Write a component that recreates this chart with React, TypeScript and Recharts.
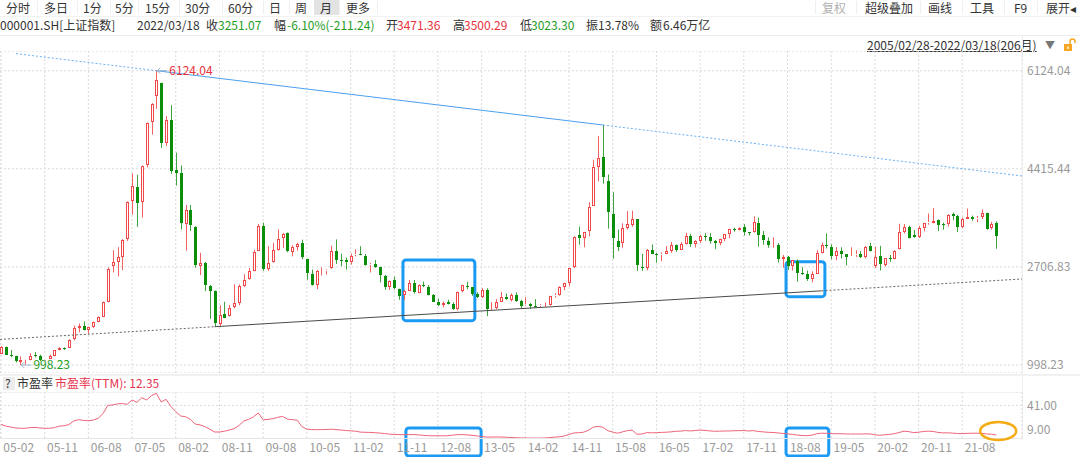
import React from "react";
import {
  ComposedChart,
  Bar,
  Line,
  XAxis,
  YAxis,
  CartesianGrid,
  ReferenceLine,
  ReferenceArea,
  ReferenceDot,
} from "recharts";

const FONT = '"Noto Sans CJK SC", "Noto Sans", sans-serif';
const RED = "#f04848";
const RED_WICK = "#f26060";
const GREEN = "#0b8f0b";
const GREEN_WICK = "#3da33d";
const TXT_RED = "#e8313b";
const TXT_GREEN = "#1f9d1f";

// Monthly candles, 2005-02 .. 2022-03 : [open, high, low, close]
const k2005 = [
  [1191, 1328, 1188, 1306], [1304, 1316, 1173, 1181], [1180, 1260, 1134, 1159], [1157, 1160, 1043, 1060],
  [1059, 1147, 998.23, 1080], [1078, 1088, 1004, 1083], [1082, 1205, 1080, 1162], [1164, 1223, 1130, 1155],
  [1155, 1176, 1067, 1092], [1092, 1105, 1074, 1099], [1100, 1180, 1100, 1161],
];
const k2006 = [
  [1163, 1260, 1150, 1258], [1262, 1308, 1254, 1299], [1300, 1306, 1260, 1298], [1300, 1446, 1297, 1440],
  [1447, 1686, 1425, 1641], [1645, 1721, 1567, 1672], [1674, 1757, 1601, 1612], [1611, 1665, 1541, 1658],
  [1660, 1756, 1645, 1752], [1754, 1846, 1743, 1837], [1839, 2104, 1833, 2099], [2104, 2698, 2090, 2675],
];
const k2007 = [
  [2728, 3000, 2610, 2786], [2790, 3050, 2541, 2881], [2881, 3190, 2650, 3183], [3196, 3848, 3160, 3841],
  [3856, 4335, 3616, 4109], [4106, 4311, 3404, 3820], [3830, 4472, 3563, 4471], [4480, 5219, 4440, 5218],
  [5238, 5560, 5010, 5552], [5683, 6124.04, 5462, 5954], [5914, 5916, 4778, 4871], [4861, 5336, 4812, 5262],
];
const k2008 = [
  [5273, 5522, 4330, 4383], [4402, 4696, 4123, 4348], [4350, 4473, 3358, 3473], [3446, 3786, 2990, 3693],
  [3698, 3786, 3333, 3433], [3400, 3415, 2693, 2736], [2730, 2953, 2566, 2775], [2783, 2793, 2284, 2397],
  [2382, 2394, 1802, 2293], [2292, 2297, 1664.93, 1729], [1720, 2035, 1679, 1871], [1880, 2100, 1814, 1821],
];
const k2009 = [
  [1849, 2042, 1844, 1991], [2000, 2402, 1984, 2082], [2074, 2399, 2037, 2373], [2379, 2580, 2355, 2477],
  [2492, 2688, 2484, 2633], [2635, 3000, 2630, 2959], [2986, 3454, 2985, 3412], [3427, 3478, 2639, 2667],
  [2667, 3068, 2639, 2779], [2800, 3123, 2780, 2996], [3000, 3361, 2990, 3195], [3204, 3295, 3039, 3277],
];
const k2010 = [
  [3289, 3307, 2963, 2989], [2970, 3084, 2890, 3051], [3060, 3128, 2990, 3110], [3121, 3181, 2840, 2871],
  [2840, 2850, 2482, 2592], [2580, 2660, 2382, 2398], [2393, 2650, 2319, 2638], [2633, 2697, 2557, 2638],
  [2640, 2665, 2573, 2656], [2681, 3074, 2673, 2979], [2987, 3186, 2758, 2820], [2832, 2937, 2720, 2808],
];
const k2011 = [
  [2825, 2870, 2661, 2790], [2798, 2940, 2748, 2905], [2907, 3012, 2890, 2928], [2935, 3067, 2910, 2911],
  [2900, 2931, 2730, 2743], [2745, 2777, 2610, 2762], [2766, 2826, 2690, 2701], [2703, 2708, 2437, 2568],
  [2555, 2566, 2307, 2359], [2357, 2470, 2307, 2468], [2477, 2536, 2312, 2333], [2324, 2328, 2134, 2199],
];
const k2012 = [
  [2212, 2302, 2132, 2292], [2293, 2479, 2290, 2428], [2432, 2478, 2242, 2262], [2256, 2402, 2249, 2396],
  [2396, 2453, 2353, 2373], [2365, 2390, 2211, 2225], [2224, 2235, 2096, 2103], [2104, 2154, 2023, 2047],
  [2042, 2103, 1999, 2086], [2090, 2136, 2053, 2069], [2064, 2091, 1959, 1980], [1979, 2276, 1949, 2269],
];
const k2013 = [
  [2290, 2394, 2262, 2385], [2382, 2445, 2320, 2365], [2351, 2354, 2203, 2237], [2233, 2266, 2163, 2178],
  [2175, 2337, 2164, 2300], [2309, 2335, 1849, 1979], [1985, 2092, 1951, 1994], [1986, 2149, 1970, 2098],
  [2099, 2270, 2095, 2175], [2179, 2242, 2133, 2141], [2135, 2244, 2105, 2220], [2218, 2263, 2097, 2116],
];
const k2014 = [
  [2112, 2133, 1984, 2033], [2038, 2177, 2030, 2056], [2054, 2079, 1974, 2033], [2030, 2146, 1998, 2026],
  [2022, 2063, 1991, 2039], [2037, 2089, 2010, 2048], [2049, 2204, 2033, 2202], [2203, 2248, 2171, 2217],
  [2211, 2369, 2205, 2364], [2362, 2430, 2300, 2420], [2423, 2683, 2367, 2683], [2700, 3240, 2684, 3235],
];
const k2015 = [
  [3258, 3406, 3095, 3210], [3212, 3317, 3049, 3310], [3328, 3835, 3238, 3748], [3767, 4573, 3767, 4442],
  [4442, 4986, 4198, 4612], [4615, 5178.19, 4156, 4277], [4195, 4317, 3373, 3664], [3631, 4006, 2850, 3206],
  [3157, 3357, 2983, 3053], [3118, 3465, 3039, 3383], [3380, 3679, 3357, 3446], [3445, 3685, 3406, 3539],
];
const k2016 = [
  [3537, 3539, 2638, 2738], [2705, 2936, 2638, 2688], [2688, 3018, 2649, 3004], [3009, 3097, 2929, 2938],
  [2935, 2950, 2781, 2917], [2917, 2960, 2807, 2930], [2931, 3069, 2928, 2979], [2979, 3140, 2952, 3085],
  [3089, 3096, 2969, 3005], [3000, 3140, 2999, 3100], [3105, 3301, 3098, 3250], [3244, 3284, 3056, 3104],
];
const k2017 = [
  [3105, 3173, 3045, 3159], [3162, 3264, 3124, 3242], [3247, 3294, 3163, 3223], [3225, 3295, 3111, 3155],
  [3150, 3176, 3016, 3117], [3117, 3197, 3084, 3192], [3193, 3276, 3155, 3273], [3273, 3372, 3205, 3361],
  [3362, 3391, 3319, 3349], [3344, 3397, 3343, 3393], [3396, 3450, 3254, 3317], [3311, 3315, 3254, 3307],
];
const k2018 = [
  [3314, 3587, 3305, 3481], [3479, 3566, 3062, 3259], [3268, 3333, 3092, 3169], [3163, 3220, 3041, 3082],
  [3080, 3220, 3041, 3095], [3081, 3122, 2782, 2847], [2845, 2915, 2691, 2876], [2880, 2896, 2653, 2725],
  [2717, 2827, 2644, 2821], [2810, 2839, 2449, 2603], [2603, 2703, 2566, 2588], [2588, 2640, 2463, 2494],
];
const k2019 = [
  [2497, 2630, 2440, 2585], [2589, 2997, 2588, 2941], [2950, 3129, 2943, 3091], [3094, 3288, 3027, 3078],
  [3052, 3099, 2838, 2899], [2900, 3050, 2822, 2979], [2988, 3049, 2854, 2932], [2927, 2929, 2733, 2886],
  [2897, 3048, 2895, 2905], [2907, 2998, 2881, 2929], [2940, 2981, 2858, 2871], [2871, 3072, 2857, 3050],
];
const k2020 = [
  [3067, 3127, 2976, 2977], [2716, 3058, 2685, 2880], [2899, 3074, 2647, 2750], [2743, 2860, 2715, 2860],
  [2859, 2915, 2797, 2852], [2853, 3000, 2838, 2985], [3018, 3458, 3012, 3310], [3313, 3455, 3289, 3396],
  [3404, 3425, 3202, 3218], [3262, 3350, 3215, 3225], [3235, 3422, 3209, 3392], [3388, 3474, 3326, 3473],
];
const k2021 = [
  [3474, 3637, 3441, 3483], [3479, 3732, 3465, 3509], [3525, 3532, 3328, 3442], [3453, 3479, 3354, 3447],
  [3447, 3625, 3409, 3615], [3621, 3654, 3517, 3591], [3592, 3614, 3312, 3397], [3406, 3567, 3381, 3544],
  [3543, 3723, 3542, 3568], [3568, 3600, 3512, 3547], [3544, 3594, 3484, 3564], [3571, 3708, 3540, 3640],
];
const k2022 = [
  [3650, 3651, 3357, 3361], [3392, 3491, 3357, 3462], [3471.36, 3500.29, 3023.3, 3251.07],
];

// PE (TTM) monthly
const pe2005 = [22.7, 21.0, 20.1, 19.2, 18.9, 18.9, 19.5, 19.8, 19.2, 18.9, 18.9];
const pe2006 = [19.5, 21.0, 21.3, 22.5, 26.0, 27.2, 26.5, 26.2, 26.8, 28.5, 33.0, 41.0];
const pe2007 = [41.5, 42.5, 42.8, 42.1, 46.3, 44.0, 48.5, 46.3, 50.5, 52.7, 44.3, 46.9];
const pe2008 = [40.0, 35.0, 30.8, 30.1, 27.6, 23.0, 22.2, 20.5, 18.0, 15.3, 15.3, 16.0];
const pe2009 = [17.2, 18.5, 21.5, 25.9, 27.5, 30.0, 33.7, 27.1, 27.5, 28.2, 29.5, 30.4];
const pe2010 = [27.8, 27.2, 26.7, 20.5, 18.0, 17.7, 17.5, 17.6, 17.7, 18.0, 17.6, 17.2];
const pe2011 = [16.8, 16.4, 16.1, 15.2, 15.0, 14.9, 14.6, 14.3, 13.8, 13.3, 12.9, 12.8];
const pe2012 = [12.6, 12.8, 12.8, 12.5, 12.1, 11.7, 11.6, 11.7, 11.6, 11.7, 12.2, 12.7];
const pe2013 = [12.8, 12.5, 12.1, 11.5, 10.9, 10.4, 10.4, 10.5, 10.4, 10.2, 10.0, 9.8];
const pe2014 = [9.6, 9.5, 9.4, 9.4, 9.4, 9.5, 9.9, 10.3, 10.7, 11.4, 12.9, 14.4];
const pe2015 = [14.6, 15.1, 17.0, 20.0, 20.7, 19.8, 16.5, 15.3, 14.1, 15.4, 16.6, 17.1];
const pe2016 = [13.1, 13.3, 14.7, 14.5, 14.6, 14.9, 15.1, 15.4, 16.0, 16.1, 16.7, 16.3];
const pe2017 = [16.8, 17.1, 16.9, 16.3, 16.0, 16.1, 16.2, 16.3, 16.5, 16.6, 16.7, 16.3];
const pe2018 = [16.6, 15.8, 15.4, 15.0, 14.8, 14.4, 13.9, 13.4, 13.0, 12.3, 11.9, 11.7];
const pe2019 = [12.2, 13.6, 14.1, 14.0, 13.7, 13.6, 13.6, 13.4, 13.3, 13.4, 13.3, 13.5];
const pe2020 = [13.4, 12.6, 12.1, 12.6, 13.0, 13.7, 14.8, 16.1, 15.6, 14.7, 15.1, 15.8];
const pe2021 = [16.1, 15.8, 14.9, 14.4, 14.5, 14.2, 13.8, 13.7, 14.0, 14.1, 14.1, 14.0];
const pe2022 = [13.4, 13.2, 12.35];

// axis ticks
const dateTickLabels = [
  "05-02", "05-11", "06-08", "07-05", "08-02", "08-11", "09-08", "10-05", "11-02", "11-11", "12-08", "13-05",
  "14-02", "14-11", "15-08", "16-05", "17-02", "17-11", "18-08", "19-05", "20-02", "20-11", "21-08",
];
const dateTickIdx = [0, 9, 18, 27, 36, 45, 54, 63, 72, 81, 90, 99, 108, 117, 126, 135, 144, 153, 162, 171, 180, 189, 198];
const priceTicks = [998.23, 2706.83, 4415.44, 6124.04];
const peTicks = [9, 41];

// hand-drawn trend lines: [monthIndex, value]
const upperTrend = [[3.1, 6421.1], [32, 6124.04], [124, 5178.19], [210.3, 4290.9]];
const lowerTrend = [[-0.2, 1443.9], [44, 1664.93], [169, 2289.9], [210.3, 2496.4]];

// highlight boxes: [fromIdx, toIdx, lowValue, highValue]
const priceBoxes = [[82.8, 97.6, 1770, 2827], [161.7, 169.7, 2188, 2797]];
const peBoxes = [[83.4, 98.9, -7.9, 19.2], [161.7, 170.5, -7.9, 19.2]];

const candles = [
  ...k2005, ...k2006, ...k2007, ...k2008, ...k2009, ...k2010, ...k2011, ...k2012, ...k2013,
  ...k2014, ...k2015, ...k2016, ...k2017, ...k2018, ...k2019, ...k2020, ...k2021, ...k2022,
];
const peAll = [
  ...pe2005, ...pe2006, ...pe2007, ...pe2008, ...pe2009, ...pe2010, ...pe2011, ...pe2012, ...pe2013,
  ...pe2014, ...pe2015, ...pe2016, ...pe2017, ...pe2018, ...pe2019, ...pe2020, ...pe2021, ...pe2022,
];
const data = candles.map(([o, h, l, c], i) => ({ i, o, h, l, c, range: [l, h], pe: peAll[i] }));

const X_DOMAIN: [number, number] = [-0.2, 210.3];

const Candle = (props: any) => {
  const { x, y, width, height, payload } = props;
  if (x == null || y == null) return null;
  const { o, h, l, c } = payload;
  const top = Math.min(y, y + height);
  const bot = Math.max(y, y + height);
  const span = h - l;
  const py = (v: number) => (span === 0 ? top : bot - ((v - l) / span) * (bot - top));
  const cx = Math.round(x + width / 2);
  const up = c >= o;
  const bt = Math.round(py(Math.max(o, c)));
  const bb = Math.round(py(Math.min(o, c)));
  const ht = py(h);
  const lb = py(l);
  const wx = cx + 0.5;
  if (up) {
    return (
      <g>
        <line x1={wx} x2={wx} y1={ht} y2={bt} stroke={RED_WICK} strokeWidth={1} />
        <line x1={wx} x2={wx} y1={bb} y2={lb} stroke={RED_WICK} strokeWidth={1} />
        <rect x={cx - 0.5} y={bt + 0.5} width={2} height={Math.max(bb - bt - 1, 0)} fill="#fff" stroke={RED} strokeWidth={1} />
      </g>
    );
  }
  return (
    <g>
      <line x1={wx} x2={wx} y1={ht} y2={lb} stroke={GREEN_WICK} strokeWidth={1} />
      <rect x={cx - 1} y={bt} width={3} height={Math.max(bb - bt, 1)} fill={GREEN} />
    </g>
  );
};

const PriceTick = (p: any) => (
  <text x={p.x} y={p.y} dy={4.3} fill="#999" fontSize={12} fontFamily={FONT} textAnchor="start">
    {Number(p.payload.value).toFixed(2)}
  </text>
);

const PeTick = (p: any) => {
  const v = Number(p.payload.value);
  const shift = v === peTicks[0] ? -9.2 : 0;
  return (
    <text x={p.x} y={p.y + shift} dy={4.3} fill="#999" fontSize={12} fontFamily={FONT} textAnchor="start">
      {v.toFixed(2)}
    </text>
  );
};

const DateTick = (p: any) => {
  const idx = dateTickIdx.indexOf(Number(p.payload.value));
  return (
    <text x={p.x + 2.4} y={p.y + 13.5} fill="#999" fontSize={12} fontFamily={FONT} textAnchor="start">
      {dateTickLabels[idx]}
    </text>
  );
};

const BoxShape = (p: any) => (
  <rect x={p.x} y={p.y} width={p.width} height={p.height} rx={3} ry={3} fill="none" stroke="#1a9af2" strokeWidth={3} />
);

const MarkLabel = (color: string, text: string) => (p: any) => {
  const { cx, cy } = p;
  return (
    <g>
      <line x1={cx + 1} y1={cy} x2={cx + 11} y2={cy} stroke="#9fb3c8" strokeWidth={1} />
      <line x1={cx + 1} y1={cy} x2={cx + 4} y2={cy - 3} stroke="#9fb3c8" strokeWidth={1} />
      <line x1={cx + 1} y1={cy} x2={cx + 4} y2={cy + 3} stroke="#9fb3c8" strokeWidth={1} />
      <text x={cx + 13} y={cy} dy={4.3} fill={color} fontSize={12} fontFamily={FONT}>{text}</text>
    </g>
  );
};

const Ellipse = (p: any) => (
  <ellipse cx={p.cx} cy={p.cy} rx={18} ry={9} fill="none" stroke="#f5ac14" strokeWidth={2.5} />
);

const segs = (pts: number[][]) =>
  pts.slice(0, -1).map((pt, k) => ({ a: pt, b: pts[k + 1], solid: k === 1 }));

const T = ({ left, top, color = "#333", children, lh = "14px", style = {} }: any) => (
  <span
    style={{
      position: "absolute",
      left,
      top,
      color,
      fontSize: 12,
      lineHeight: lh,
      whiteSpace: "nowrap",
      fontFamily: FONT,
      ...style,
    }}
  >
    {children}
  </span>
);

const tabs: [string, number][] = [
  ["分时", 6], ["多日", 44], ["1分", 83], ["5分", 115], ["15分", 145], ["30分", 185], ["60分", 228],
  ["日", 269], ["周", 295], ["月", 320], ["更多", 346],
];
const tabSeps = [37, 77, 110, 138, 179, 222, 263, 289, 339, 377, 815, 856, 920, 962, 1004, 1037];
const rightTools: [string, number, string][] = [
  ["复权", 822, "#b0b0b0"], ["超级叠加", 865, "#333"], ["画线", 928, "#333"], ["工具", 970, "#333"], ["F9", 1014, "#333"], ["展开◂", 1046, "#333"],
];

export default function App() {
  return (
    <div style={{ position: "absolute", left: 0, top: 0, width: 1080, height: 457, overflow: "hidden", background: "#fff", fontFamily: FONT }}>
      {/* toolbar */}
      <div style={{ position: "absolute", left: 314, top: 0, width: 25, height: 15, background: "#e3e3e3" }} />
      {tabSeps.map((x) => (
        <div key={x} style={{ position: "absolute", left: x, top: 1, width: 1, height: 13, background: "#efefef" }} />
      ))}
      {tabs.map(([t, x]) => (
        <T key={t} left={x} top={0} lh="16px">{t}</T>
      ))}
      {rightTools.map(([t, x, c]) => (
        <T key={t} left={x} top={0} lh="16px" color={c}>{t}</T>
      ))}
      <div style={{ position: "absolute", left: 0, top: 16, width: 1080, height: 1, background: "#f2f2f2" }} />
      {/* info row */}
      <T left={0} top={18}>000001.SH[上证指数]</T>
      <T left={137} top={18}>2022/03/18</T>
      <T left={206} top={18}>收</T>
      <T left={218} top={18} color={TXT_GREEN}>3251.07</T>
      <T left={274} top={18}>幅</T>
      <T left={287} top={18} color={TXT_GREEN}>-6.10%(-211.24)</T>
      <T left={386} top={18}>开</T>
      <T left={397} top={18} color={TXT_RED}>3471.36</T>
      <T left={453} top={18}>高</T>
      <T left={464} top={18} color={TXT_RED}>3500.29</T>
      <T left={520} top={18}>低</T>
      <T left={531} top={18} color={TXT_GREEN}>3023.30</T>
      <T left={586} top={18}>振</T>
      <T left={598} top={18}>13.78%</T>
      <T left={650} top={18}>额</T>
      <T left={663} top={18}>6.46万亿</T>
      <div style={{ position: "absolute", left: 0, top: 35, width: 1080, height: 1, background: "#eeeeee" }} />
      {/* range */}
      <T left={867} top={38} style={{ textDecoration: "underline" }}>2005/02/28-2022/03/18(206月)</T>
      <T left={1045} top={38} color="#777" style={{ fontSize: 10 }}>▼</T>
      <svg style={{ position: "absolute", left: 1063, top: 38 }} width={14} height={14}>
        <path d="M7 6 V3.5 a2.5 2.5 0 0 1 5 0 V5" fill="none" stroke="#f5a623" strokeWidth={1.5} />
        <rect x={1} y={6} width={8} height={7} fill="#f5a623" />
        <rect x={4.3} y={8.5} width={1.4} height={2.5} fill="#fff" />
      </svg>

      {/* main chart */}
      <div style={{ position: "absolute", left: 0, top: 51 }}>
        <ComposedChart width={1080} height={322} data={data} margin={{ top: 0, right: 0, bottom: 0, left: 0 }}>
          <CartesianGrid stroke="#dadada" strokeDasharray="2 2" />
          <XAxis dataKey="i" type="number" domain={X_DOMAIN} ticks={dateTickIdx} interval={0} hide allowDataOverflow />
          <YAxis
            orientation="right"
            width={58}
            type="number"
            domain={[858.9, 6467.2]}
            ticks={priceTicks}
            interval={0}
            allowDataOverflow
            tickLine={false}
            axisLine={false}
            tickSize={0}
            tickMargin={5}
            tick={<PriceTick />}
          />
          {segs(upperTrend).map((s, k) => (
            <ReferenceLine
              key={"u" + k}
              segment={[{ x: s.a[0], y: s.a[1] }, { x: s.b[0], y: s.b[1] }]}
              stroke={s.solid ? "#4a9ff0" : "#6ab2f5"}
              strokeDasharray={s.solid ? undefined : "2 2"}
              strokeWidth={1}
              ifOverflow="visible"
            />
          ))}
          {segs(lowerTrend).map((s, k) => (
            <ReferenceLine
              key={"l" + k}
              segment={[{ x: s.a[0], y: s.a[1] }, { x: s.b[0], y: s.b[1] }]}
              stroke={s.solid ? "#4a4a4a" : "#666"}
              strokeDasharray={s.solid ? undefined : "2 2"}
              strokeWidth={1}
              ifOverflow="visible"
            />
          ))}
          <Bar dataKey="range" barSize={3} shape={<Candle />} isAnimationActive={false} />
          <ReferenceDot x={32} y={6124.04} r={0} ifOverflow="visible" shape={MarkLabel(TXT_RED, "6124.04")} />
          <ReferenceDot x={4} y={998.23} r={0} ifOverflow="visible" shape={MarkLabel(TXT_GREEN, "998.23")} />
          {priceBoxes.map((b, k) => (
            <ReferenceArea key={"pb" + k} x1={b[0]} x2={b[1]} y1={b[2]} y2={b[3]} ifOverflow="visible" shape={<BoxShape />} />
          ))}
        </ComposedChart>
      </div>

      <div style={{ position: "absolute", left: 0, top: 374, width: 1080, height: 2, background: "#f1f1f1" }} />
      <div style={{ position: "absolute", left: 1022, top: 36, width: 1, height: 404, background: "#eeeeee" }} />

      {/* sub header */}
      <div style={{ position: "absolute", left: 3, top: 377, width: 12, height: 13, background: "#ececec" }} />
      <T left={5} top={376}>?</T>
      <T left={17} top={376}>市盈率</T>
      <T left={55} top={376} color="#e5354f">市盈率(TTM): 12.35</T>

      {/* PE sub chart */}
      <div style={{ position: "absolute", left: 0, top: 392 }}>
        <ComposedChart width={1080} height={65} data={data} margin={{ top: 0, right: 0, bottom: 0, left: 0 }}>
          <CartesianGrid stroke="#dadada" strokeDasharray="2 2" />
          <XAxis
            dataKey="i"
            type="number"
            domain={X_DOMAIN}
            ticks={dateTickIdx}
            interval={0}
            allowDataOverflow
            height={18.5}
            tickLine={false}
            tickSize={0}
            tickMargin={0}
            axisLine={{ stroke: "#e6e6e6" }}
            tick={<DateTick />}
          />
          <YAxis
            orientation="right"
            width={58}
            type="number"
            domain={[9, 54]}
            ticks={peTicks}
            interval={0}
            allowDataOverflow
            tickLine={false}
            axisLine={false}
            tickSize={0}
            tickMargin={5}
            tick={<PeTick />}
          />
          <ReferenceLine y={54} stroke="#ececec" ifOverflow="visible" />
          <Line dataKey="pe" type="linear" stroke="#ee6378" strokeWidth={1} dot={false} isAnimationActive={false} />
          {peBoxes.map((b, k) => (
            <ReferenceArea key={"qb" + k} x1={b[0]} x2={b[1]} y1={b[2]} y2={b[3]} ifOverflow="visible" shape={<BoxShape />} />
          ))}
          <ReferenceDot x={205.4} y={16.3} r={0} ifOverflow="visible" shape={<Ellipse />} />
        </ComposedChart>
      </div>
    </div>
  );
}
